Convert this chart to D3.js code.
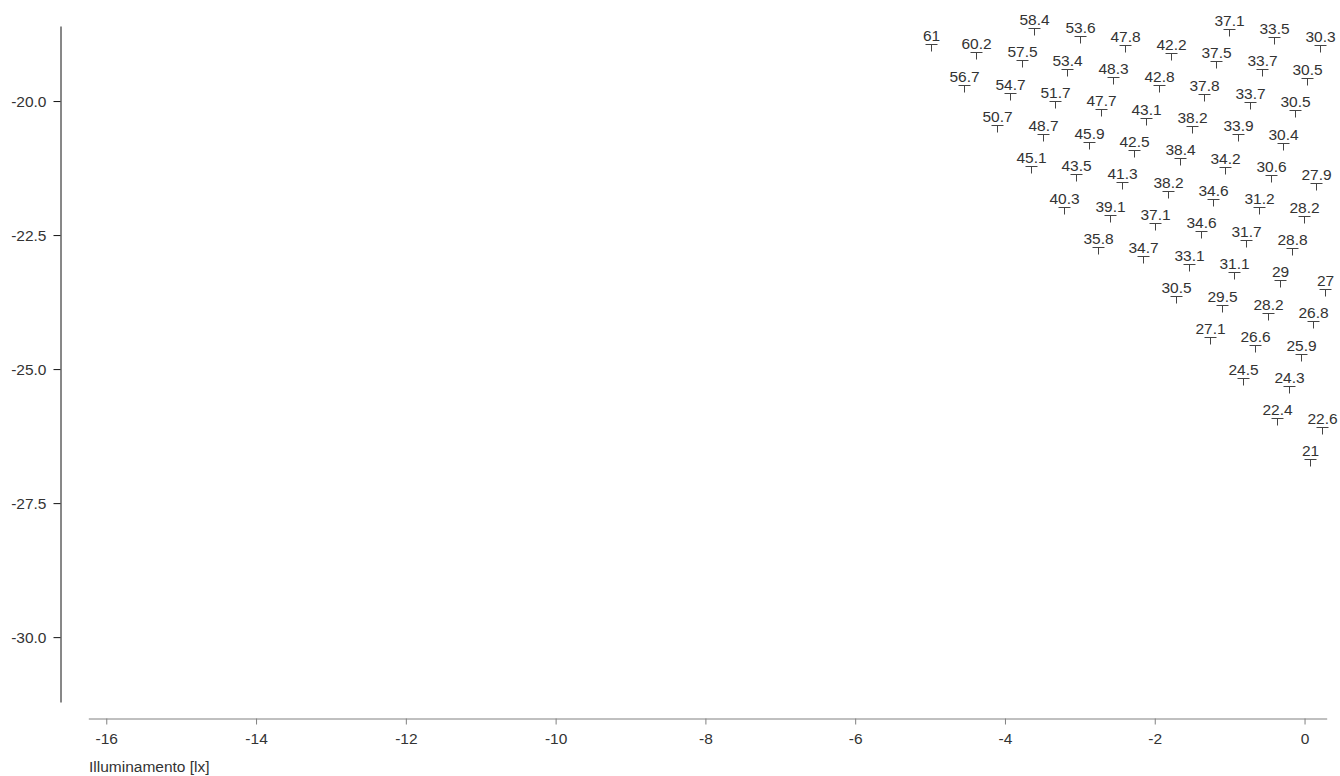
<!DOCTYPE html>
<html>
<head>
<meta charset="utf-8">
<script src="https://cdn.jsdelivr.net/npm/d3@7"></script>
<style>
  html, body { margin: 0; padding: 0; background: #fff; }
  svg { display: block; font-family: "Liberation Sans", Arial, Helvetica, sans-serif; }
</style>
</head>
<body>
<svg id="chart" width="1340" height="776"></svg>
<script>
// ---- data ----
const pointLabels = [
  "37.1","33.5","30.3",
  "58.4","53.6","47.8","42.2","37.5","33.7","30.5",
  "61","60.2","57.5","53.4","48.3","42.8","37.8","33.7","30.5",
  "56.7","54.7","51.7","47.7","43.1","38.2","33.9","30.4",
  "50.7","48.7","45.9","42.5","38.4","34.2","30.6","27.9",
  "45.1","43.5","41.3","38.2","34.6","31.2","28.2",
  "40.3","39.1","37.1","34.6","31.7","28.8",
  "35.8","34.7","33.1","31.1","29","27",
  "30.5","29.5","28.2","26.8",
  "27.1","26.6","25.9",
  "24.5","24.3",
  "22.4","22.6",
  "21"
];
const pointX = [
  -1.015,-0.407,0.202,
  -3.611,-3.003,-2.395,-1.786,-1.178,-0.569,0.039,
  -4.991,-4.383,-3.774,-3.166,-2.558,-1.949,-1.341,-0.732,-0.124,
  -4.546,-3.937,-3.329,-2.720,-2.112,-1.504,-0.895,-0.287,
  -4.100,-3.492,-2.883,-2.275,-1.667,-1.058,-0.450,0.159,
  -3.655,-3.046,-2.438,-1.829,-1.221,-0.613,-0.004,
  -3.209,-2.601,-1.992,-1.384,-0.775,-0.167,
  -2.764,-2.155,-1.547,-0.938,-0.330,0.279,
  -1.710,-1.101,-0.493,0.116,
  -1.264,-0.656,-0.047,
  -0.819,-0.210,
  -0.373,0.235,
  0.072
];
const pointY = [
  -18.650,-18.810,-18.960,
  -18.638,-18.793,-18.947,-19.101,-19.256,-19.410,-19.565,
  -18.934,-19.088,-19.243,-19.397,-19.551,-19.706,-19.860,-20.015,-20.169,
  -19.693,-19.847,-20.001,-20.156,-20.310,-20.465,-20.619,-20.774,
  -20.451,-20.606,-20.760,-20.915,-21.069,-21.224,-21.378,-21.533,
  -21.210,-21.365,-21.519,-21.674,-21.828,-21.983,-22.137,
  -21.969,-22.124,-22.278,-22.433,-22.587,-22.742,
  -22.728,-22.883,-23.037,-23.192,-23.346,-23.501,
  -23.642,-23.796,-23.951,-24.105,
  -24.401,-24.555,-24.710,
  -25.160,-25.314,
  -25.919,-26.073,
  -26.678
];
const xTicks = [-16, -14, -12, -10, -8, -6, -4, -2, 0];
const yTicks = [-20.0, -22.5, -25.0, -27.5, -30.0];
const xDomain = [-16.24, 0.296];
const yDomain = [-18.6, -31.21];
const xTitle = "Illuminamento [lx]";

// ---- chart ----
const svg = d3.select("#chart");
const x = d3.scaleLinear().domain(xDomain).range([88.3, 1326.7]);
const y = d3.scaleLinear().domain(yDomain).range([26, 702]);

const textColor = "#333";
const fontSize = 15.5;
const ff = "'Liberation Sans', Arial, Helvetica, sans-serif";

// y axis
const gy = svg.append("g")
  .attr("transform", "translate(60.5,0)")
  .call(d3.axisLeft(y).tickValues(yTicks).tickSize(7).tickSizeOuter(0).tickPadding(7)
        .tickFormat(d => d.toFixed(1)));
gy.select(".domain").attr("stroke", "#111");
gy.selectAll(".tick line").attr("stroke", "#111");
gy.selectAll(".tick text").attr("fill", textColor).style("font-size", fontSize + "px")
  .style("font-family", ff);

// x axis
const gx = svg.append("g")
  .attr("transform", "translate(0,718.5)")
  .call(d3.axisBottom(x).tickValues(xTicks).tickSize(6).tickSizeOuter(0).tickPadding(8)
        .tickFormat(d => String(d)));
gx.select(".domain").attr("stroke", "#808080");
gx.selectAll(".tick line").attr("stroke", "#808080");
gx.selectAll(".tick text").attr("fill", textColor).style("font-size", fontSize + "px")
  .style("font-family", ff);

svg.append("text")
  .attr("x", 89)
  .attr("y", 772)
  .attr("fill", textColor)
  .style("font-size", fontSize + "px")
  .style("font-family", ff)
  .text(xTitle);

// points
const pts = pointLabels.map((l, i) => ({ label: l, x: pointX[i], y: pointY[i] }));
const g = svg.append("g");
const mark = g.selectAll("g.pt").data(pts).join("g")
  .attr("class", "pt")
  .attr("transform", d => `translate(${Math.round(x(d.x)) + 0.5},${Math.round(y(d.y)) + 0.5})`);
mark.append("line").attr("x1", -6).attr("x2", 6).attr("y1", 0).attr("y2", 0)
  .attr("stroke", "#444").attr("stroke-width", 1);
mark.append("line").attr("x1", 0).attr("x2", 0).attr("y1", 0).attr("y2", 7)
  .attr("stroke", "#444").attr("stroke-width", 1);
mark.append("text")
  .attr("x", 0).attr("y", -3.5)
  .attr("text-anchor", "middle")
  .attr("fill", textColor)
  .style("font-size", fontSize + "px")
  .style("font-family", ff)
  .text(d => d.label);
</script>
</body>
</html>
